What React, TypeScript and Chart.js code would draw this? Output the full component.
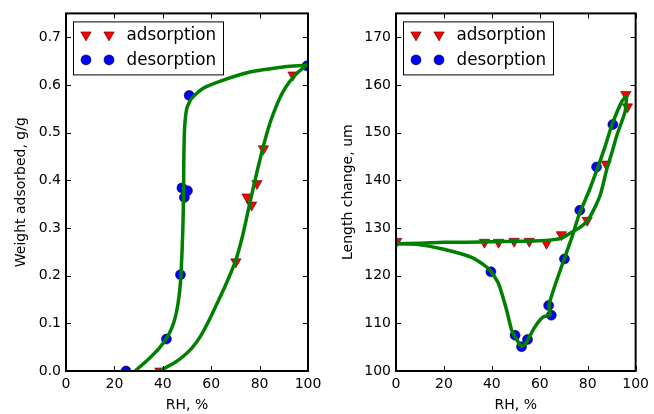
import React, { useEffect, useRef } from "react";
import { Chart, registerables } from "chart.js";
Chart.register(...registerables);

const FONT = "'DejaVu Sans', sans-serif";

// ---------- Left panel: weight adsorbed ----------
const wAdsX = [38.8, 70.2, 74.8, 76.7, 78.9, 81.6, 93.8];
const wAdsY = [0.0, 0.229, 0.365, 0.348, 0.393, 0.466, 0.621];
const wDesX = [24.8, 41.5, 47.3, 47.9, 48.9, 50.2, 50.9, 99.6];
const wDesY = [0.0, 0.067, 0.202, 0.384, 0.364, 0.378, 0.578, 0.64];
const wAdsCurveX = [38.6, 41.5, 45.0, 48.5, 52.0, 55.5, 59.5, 63.2, 66.2, 70.0, 72.8, 75.0, 77.2, 79.5, 82.0, 84.3, 87.1, 89.6, 92.3, 95.5, 99.5, 100];
const wAdsCurveY = [0.0, 0.008, 0.018, 0.031, 0.048, 0.072, 0.11, 0.15, 0.183, 0.23, 0.28, 0.33, 0.38, 0.43, 0.48, 0.52, 0.558, 0.585, 0.606, 0.625, 0.642, 0.645];
const wDesCurveX = [100, 99.5, 89.8, 76.0, 65.0, 56.7, 51.9, 49.9, 49.0, 48.7, 48.6, 48.3, 47.6, 46.8, 45.5, 43.7, 41.2, 38.2, 34.7, 31.5, 28.5];
const wDesCurveY = [0.645, 0.642, 0.6375, 0.627, 0.61, 0.593, 0.572, 0.55, 0.509, 0.45, 0.38, 0.3, 0.21, 0.16, 0.12, 0.09, 0.066, 0.046, 0.028, 0.013, 0.0];
const wYTicks = [0, 0.1, 0.2, 0.3, 0.4, 0.5, 0.6, 0.7];

// ---------- Right panel: length change ----------
const lAdsX = [0.3, 36.9, 42.8, 49.3, 55.6, 62.8, 69.0, 79.8, 87.7, 95.9, 96.6];
const lAdsY = [127.2, 127.0, 127.0, 127.2, 127.2, 126.8, 128.6, 131.6, 143.4, 158.0, 155.4];
const lDesX = [39.6, 49.7, 52.4, 54.9, 63.7, 64.8, 70.3, 76.7, 83.7, 90.5];
const lDesY = [120.8, 107.5, 105.1, 106.6, 113.75, 111.7, 123.5, 133.7, 142.8, 151.7];
const lAdsCurveX = [0, 10, 20, 30, 40, 50, 60, 65, 68.9, 73.0, 76.5, 79.8, 82.5, 85.3, 88.1, 90.2, 92.2, 95.6, 96.3];
const lAdsCurveY = [126.7, 126.8, 127.0, 127.0, 127.1, 127.2, 127.3, 127.5, 127.8, 129.0, 130.0, 131.5, 133.8, 137.0, 142.6, 146.0, 149.5, 154.4, 157.8];
const lDesCurveX = [96.3, 94.2, 90.1, 87.2, 84.6, 80.5, 76.4, 73.7, 70.2, 66.1, 63.8, 64.3, 61.3, 57.9, 54.5, 52.4, 50.5, 48.3, 46.2, 42.8, 38.7, 31.8, 19.5, 8.5, 0];
const lDesCurveY = [157.8, 156.5, 151.6, 147.0, 143.25, 137.7, 132.8, 128.5, 123.5, 117.6, 113.75, 111.8, 111.3, 109.2, 106.1, 105.1, 106.5, 108.5, 112.7, 118.3, 121.4, 123.8, 125.6, 126.6, 126.7];
const lYTicks = [100, 110, 120, 130, 140, 150, 160, 170];

const xTicks = [0, 20, 40, 60, 80, 100];
const legendLabels = ["adsorption", "desorption"];

const pts = (xs: number[], ys: number[]) => xs.map((x, i) => ({ x, y: ys[i] }));

function drawTri(ctx: CanvasRenderingContext2D, x: number, y: number, r: number) {
  ctx.beginPath();
  ctx.moveTo(x, y + r);
  ctx.lineTo(x - r * 0.866, y - r * 0.5);
  ctx.lineTo(x + r * 0.866, y - r * 0.5);
  ctx.closePath();
  ctx.fillStyle = "#ff0000";
  ctx.fill();
  ctx.strokeStyle = "#000";
  ctx.lineWidth = 0.5;
  ctx.stroke();
}
function drawCirc(ctx: CanvasRenderingContext2D, x: number, y: number, r: number) {
  ctx.beginPath();
  ctx.arc(x, y, r, 0, Math.PI * 2);
  ctx.fillStyle = "#0000ff";
  ctx.fill();
  ctx.strokeStyle = "#000";
  ctx.lineWidth = 0.5;
  ctx.stroke();
}

const framePlugin = {
  id: "frame",
  afterDatasetsDraw(chart: any) {
    const { ctx, chartArea: a, scales } = chart;
    ctx.save();
    ctx.strokeStyle = "#000";
    ctx.lineWidth = 1;
    const tl = 5;
    for (const t of scales.x.ticks) {
      const px = Math.round(scales.x.getPixelForValue(t.value)) + 0.5;
      ctx.beginPath();
      ctx.moveTo(px, a.bottom);
      ctx.lineTo(px, a.bottom - tl);
      ctx.moveTo(px, a.top);
      ctx.lineTo(px, a.top + tl);
      ctx.stroke();
    }
    for (const t of scales.y.ticks) {
      const py = Math.round(scales.y.getPixelForValue(t.value)) + 0.5;
      ctx.beginPath();
      ctx.moveTo(a.left, py);
      ctx.lineTo(a.left + tl, py);
      ctx.moveTo(a.right, py);
      ctx.lineTo(a.right - tl, py);
      ctx.stroke();
    }
    ctx.lineWidth = 2;
    ctx.strokeRect(a.left, a.top, a.right - a.left, a.bottom - a.top);

    // legend
    const bx = a.left + 7.5;
    const by = a.top + 8.5;
    const bw = 150;
    const bh = 53;
    ctx.fillStyle = "#fff";
    ctx.fillRect(bx, by, bw, bh);
    ctx.lineWidth = 1;
    ctx.strokeRect(bx, by, bw, bh);
    const r1 = by + 13;
    const r2 = by + 38;
    drawTri(ctx, bx + 12.5, r1, 6);
    drawTri(ctx, bx + 35.5, r1, 6);
    drawCirc(ctx, bx + 12.5, r2, 5);
    drawCirc(ctx, bx + 35.5, r2, 5);
    ctx.fillStyle = "#000";
    ctx.font = `16.8px ${FONT}`;
    ctx.textBaseline = "middle";
    ctx.textAlign = "left";
    ctx.fillText(legendLabels[0], bx + 53, r1 + 1);
    ctx.fillText(legendLabels[1], bx + 53, r2 + 1);
    ctx.restore();
  },
};

type PanelProps = {
  adsX: number[]; adsY: number[]; desX: number[]; desY: number[];
  adsCX: number[]; adsCY: number[]; desCX: number[]; desCY: number[];
  yMin: number; yMax: number; yTicks: number[]; yLabel: string;
  yDigits: number; axisWidth: number; padRight: number; left: number;
};

function Panel(p: PanelProps) {
  const ref = useRef<HTMLCanvasElement>(null);
  useEffect(() => {
    const font = { family: FONT, size: 14 };
    const line = (xs: number[], ys: number[]) => ({
      type: "line" as const,
      data: pts(xs, ys),
      borderColor: "#008000",
      borderWidth: 3.5,
      pointRadius: 0,
      fill: false,
      tension: 0.2,
      order: 0,
      clip: 0,
    });
    const chart = new Chart(ref.current!, {
      type: "scatter",
      data: {
        datasets: [
          {
            data: pts(p.adsX, p.adsY),
            pointStyle: "triangle",
            rotation: 180,
            pointRadius: 6,
            backgroundColor: "#ff0000",
            borderColor: "#000",
            borderWidth: 0.5,
            order: 2,
            clip: 0,
          } as any,
          {
            data: pts(p.desX, p.desY),
            pointStyle: "circle",
            pointRadius: 5,
            backgroundColor: "#0000ff",
            borderColor: "#000",
            borderWidth: 0.5,
            order: 2,
            clip: 0,
          } as any,
          line(p.adsCX, p.adsCY) as any,
          line(p.desCX, p.desCY) as any,
        ],
      },
      options: {
        animation: false,
        responsive: false,
        devicePixelRatio: 1,
        events: [],
        layout: { padding: { top: 13, right: p.padRight, left: 0, bottom: 0 } },
        plugins: { legend: { display: false }, tooltip: { enabled: false } },
        scales: {
          x: {
            type: "linear",
            min: 0,
            max: 100,
            afterBuildTicks: (s: any) => { s.ticks = xTicks.map((v) => ({ value: v })); },
            ticks: { font, color: "#000", padding: 5, maxRotation: 0, callback: (v: any) => String(v) },
            grid: { display: false, drawTicks: false },
            border: { display: false },
            title: { display: true, text: "RH, %", font, color: "#000", padding: { top: 0, bottom: 0 } },
            afterFit: (s: any) => { s.height = 43; },
          },
          y: {
            type: "linear",
            min: p.yMin,
            max: p.yMax,
            afterBuildTicks: (s: any) => { s.ticks = p.yTicks.map((v) => ({ value: v })); },
            ticks: { font, color: "#000", padding: 5, callback: (v: any) => Number(v).toFixed(p.yDigits) },
            grid: { display: false, drawTicks: false },
            border: { display: false },
            title: { display: true, text: p.yLabel, font, color: "#000", padding: { top: 13, bottom: 0 } },
            afterFit: (s: any) => { s.width = p.axisWidth; },
          },
        },
      },
      plugins: [framePlugin],
    } as any);
    return () => chart.destroy();
  }, []);
  return (
    <canvas
      ref={ref}
      width={327}
      height={414}
      style={{ position: "absolute", left: p.left, top: 0, width: 327, height: 414 }}
    />
  );
}

export default function App() {
  return (
    <div style={{ position: "absolute", left: 0, top: 0, width: 654, height: 414, background: "#fff" }}>
      <Panel
        adsX={wAdsX} adsY={wAdsY} desX={wDesX} desY={wDesY}
        adsCX={wAdsCurveX} adsCY={wAdsCurveY} desCX={wDesCurveX} desCY={wDesCurveY}
        yMin={0} yMax={0.75} yTicks={wYTicks} yLabel="Weight adsorbed, g/g"
        yDigits={1} axisWidth={66} padRight={19} left={0}
      />
      <Panel
        adsX={lAdsX} adsY={lAdsY} desX={lDesX} desY={lDesY}
        adsCX={lAdsCurveX} adsCY={lAdsCurveY} desCX={lDesCurveX} desCY={lDesCurveY}
        yMin={100} yMax={175} yTicks={lYTicks} yLabel="Length change, um"
        yDigits={0} axisWidth={69} padRight={15} left={327}
      />
    </div>
  );
}
